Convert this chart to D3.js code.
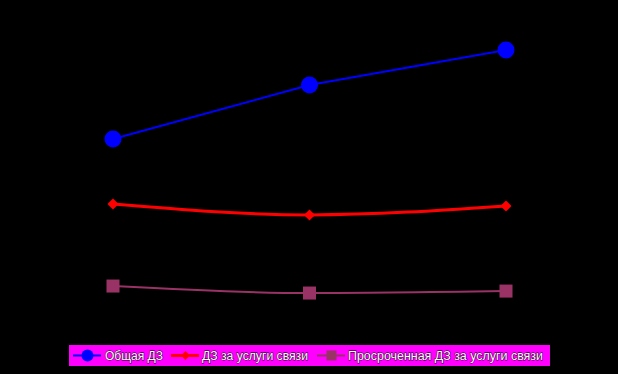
<!DOCTYPE html>
<html><head><meta charset="utf-8">
<script src="https://cdn.jsdelivr.net/npm/d3@7"></script>
<style>html,body{margin:0;padding:0;background:#000;}svg{display:block;}</style>
</head><body>
<svg id="chart" width="618" height="374"></svg>
<script>
const categories = ["2007", "2008", "2009"];
const seriesNames = ["Общая ДЗ", "ДЗ за услуги связи", "Просроченная ДЗ за услуги связи"];
const totalDebt = [682, 875, 1000];
const commDebt = [450, 411, 443];
const overdueDebt = [157, 132, 139];

const svg = d3.select("#chart");
svg.append("rect").attr("width", 618).attr("height", 374).attr("fill", "#000");

const x = d3.scalePoint().domain(categories).range([113, 506]).padding(0);
const y = d3.scaleLinear().domain([0, 1000]).range([330, 50]);

// axes exist but are invisible on the black background like the original
const xAxis = svg.append("g").attr("transform", "translate(0,330)").call(d3.axisBottom(x).tickSize(0));
xAxis.selectAll("text").attr("fill", "#000");
xAxis.select(".domain").attr("stroke", "#000");

const series = [
  {name: seriesNames[0], values: totalDebt, color: "#0000ff", width: 2, curve: d3.curveLinear, marker: "circle", size: 8.5, lsize: 6},
  {name: seriesNames[1], values: commDebt, color: "#ff0000", width: 3, curve: d3.curveMonotoneX, marker: "diamond", size: 5.5, lsize: 4.5},
  {name: seriesNames[2], values: overdueDebt, color: "#993366", width: 2, curve: d3.curveMonotoneX, marker: "square", size: 6.5, lsize: 5}
];

function drawMarker(g, type, cx, cy, s, color) {
  if (type === "circle") {
    g.append("circle").attr("cx", cx).attr("cy", cy).attr("r", s).attr("fill", color);
  } else if (type === "diamond") {
    g.append("path").attr("d", `M${cx},${cy - s}L${cx + s},${cy}L${cx},${cy + s}L${cx - s},${cy}Z`).attr("fill", color);
  } else {
    g.append("rect").attr("x", cx - s).attr("y", cy - s).attr("width", 2 * s).attr("height", 2 * s).attr("fill", color);
  }
}

series.forEach(s => {
  const line = d3.line().x((d, i) => x(categories[i])).y(d => y(d)).curve(s.curve);
  svg.append("path").datum(s.values).attr("d", line).attr("fill", "none")
    .attr("stroke", s.color).attr("stroke-width", s.width);
  const g = svg.append("g");
  s.values.forEach((v, i) => drawMarker(g, s.marker, x(categories[i]), y(v), s.size, s.color));
});

// legend
const legend = svg.append("g");
legend.append("rect").attr("x", 69).attr("y", 345).attr("width", 481).attr("height", 21).attr("fill", "#ff00ff");
const items = [
  {x0: 73, tx: 105, tw: 58},
  {x0: 171, tx: 202, tw: 106},
  {x0: 317, tx: 348, tw: 195}
];
series.forEach((s, i) => {
  const it = items[i];
  const cy = 355.5;
  legend.append("line").attr("x1", it.x0).attr("x2", it.x0 + 28).attr("y1", cy).attr("y2", cy)
    .attr("stroke", s.color).attr("stroke-width", s.width);
  drawMarker(legend, s.marker, it.x0 + 14.5, cy, s.lsize, s.color);
  legend.append("text").attr("x", it.tx).attr("y", cy + 4.5).text(s.name)
    .attr("font-family", "Liberation Sans, Arial, sans-serif").attr("font-size", 12)
    .attr("textLength", it.tw).attr("lengthAdjust", "spacingAndGlyphs")
    .attr("fill", "#fff").attr("stroke", "#000").attr("stroke-width", 0.8)
    .attr("paint-order", "stroke");
});
</script>
</body></html>
